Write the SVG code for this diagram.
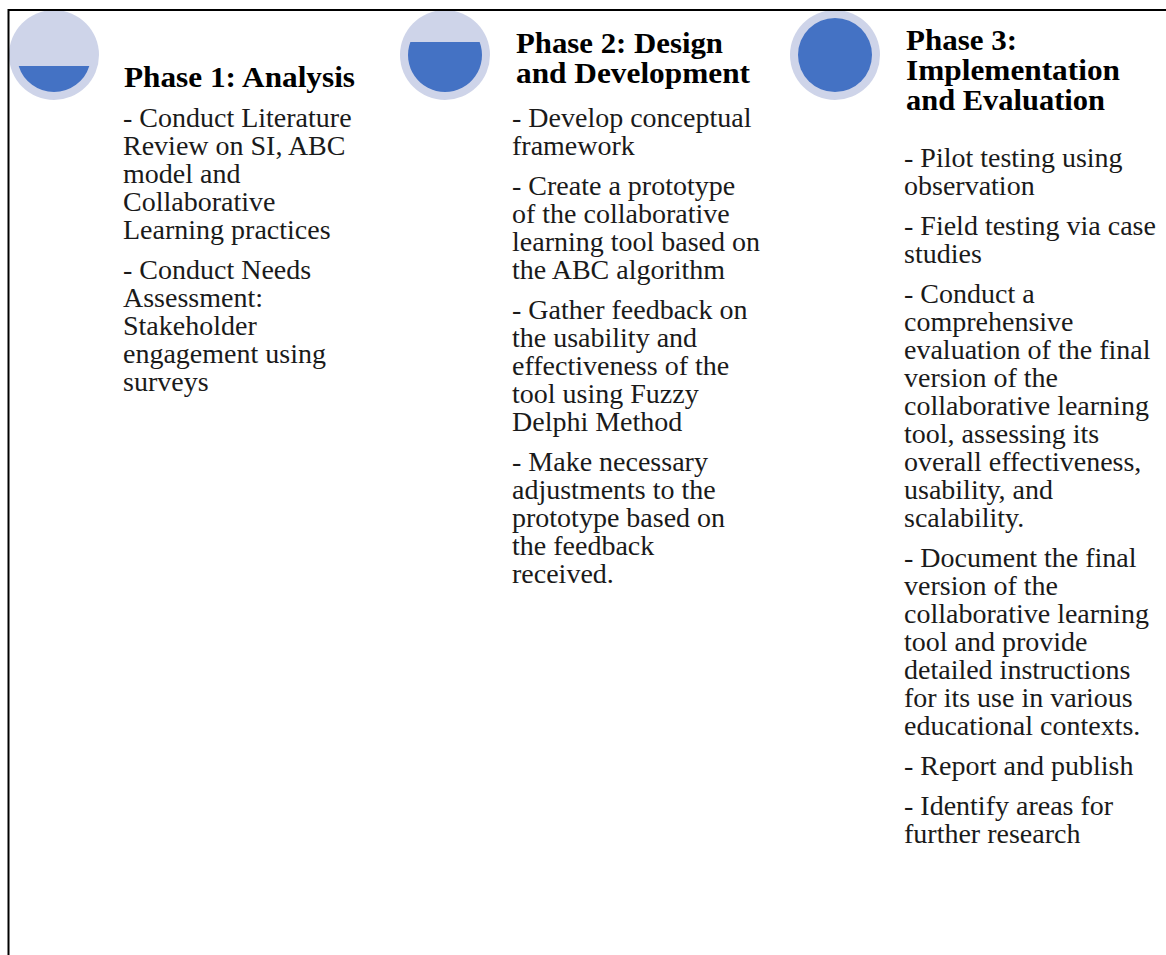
<svg xmlns="http://www.w3.org/2000/svg" width="1166" height="955" viewBox="0 0 1166 955">
  <style>
    .ring { fill: #CED4E9; }
    .fill { fill: #4472C4; }
    .title { font-family: "Liberation Serif", "Times New Roman", serif; font-weight: bold; font-size: 29px; fill: #000; }
    .body { font-family: "Liberation Serif", "Times New Roman", serif; font-size: 28px; fill: #1a1a1a; }
    .frame { stroke: #000; stroke-width: 2; fill: none; }
  </style>
  <rect width="1166" height="955" fill="#fff"/>

  <!-- Phase 1: quarter-filled progress disc -->
  <g id="phase1">
    <circle class="ring" cx="54" cy="55" r="45"/>
    <path class="fill" d="M 18.67 66 L 89.33 66 A 37 37 0 0 1 18.67 66 Z"/>
    <text class="title" x="124" y="87" textLength="231" lengthAdjust="spacingAndGlyphs">Phase 1: Analysis</text>
    <text class="body">
      <tspan x="123" y="127">- Conduct Literature</tspan>
      <tspan x="123" y="155">Review on SI, ABC</tspan>
      <tspan x="123" y="183">model and</tspan>
      <tspan x="123" y="211">Collaborative</tspan>
      <tspan x="123" y="239">Learning practices</tspan>
      <tspan x="123" y="279">- Conduct Needs</tspan>
      <tspan x="123" y="307">Assessment:</tspan>
      <tspan x="123" y="335">Stakeholder</tspan>
      <tspan x="123" y="363">engagement using</tspan>
      <tspan x="123" y="391">surveys</tspan>
    </text>
  </g>

  <!-- Phase 2: mostly filled progress disc -->
  <g id="phase2">
    <circle class="ring" cx="445" cy="55" r="45"/>
    <path class="fill" d="M 410.36 42 L 479.64 42 A 37 37 0 1 1 410.36 42 Z"/>
    <text class="title">
      <tspan x="516" y="53" textLength="207" lengthAdjust="spacingAndGlyphs">Phase 2: Design</tspan>
      <tspan x="516" y="83" textLength="234" lengthAdjust="spacingAndGlyphs">and Development</tspan>
    </text>
    <text class="body">
      <tspan x="512" y="127">- Develop conceptual</tspan>
      <tspan x="512" y="155">framework</tspan>
      <tspan x="512" y="195">- Create a prototype</tspan>
      <tspan x="512" y="223">of the collaborative</tspan>
      <tspan x="512" y="251">learning tool based on</tspan>
      <tspan x="512" y="279">the ABC algorithm</tspan>
      <tspan x="512" y="319">- Gather feedback on</tspan>
      <tspan x="512" y="347">the usability and</tspan>
      <tspan x="512" y="375">effectiveness of the</tspan>
      <tspan x="512" y="403">tool using Fuzzy</tspan>
      <tspan x="512" y="431">Delphi Method</tspan>
      <tspan x="512" y="471">- Make necessary</tspan>
      <tspan x="512" y="499">adjustments to the</tspan>
      <tspan x="512" y="527">prototype based on</tspan>
      <tspan x="512" y="555">the feedback</tspan>
      <tspan x="512" y="583">received.</tspan>
    </text>
  </g>

  <!-- Phase 3: fully filled progress disc -->
  <g id="phase3">
    <circle class="ring" cx="835" cy="55" r="45"/>
    <circle class="fill" cx="835" cy="55" r="37"/>
    <text class="title">
      <tspan x="906" y="50" textLength="111" lengthAdjust="spacingAndGlyphs">Phase 3:</tspan>
      <tspan x="906" y="80" textLength="214" lengthAdjust="spacingAndGlyphs">Implementation</tspan>
      <tspan x="906" y="110" textLength="199" lengthAdjust="spacingAndGlyphs">and Evaluation</tspan>
    </text>
    <text class="body">
      <tspan x="904" y="167">- Pilot testing using</tspan>
      <tspan x="904" y="195">observation</tspan>
      <tspan x="904" y="235">- Field testing via case</tspan>
      <tspan x="904" y="263">studies</tspan>
      <tspan x="904" y="303">- Conduct a</tspan>
      <tspan x="904" y="331">comprehensive</tspan>
      <tspan x="904" y="359">evaluation of the final</tspan>
      <tspan x="904" y="387">version of the</tspan>
      <tspan x="904" y="415">collaborative learning</tspan>
      <tspan x="904" y="443">tool, assessing its</tspan>
      <tspan x="904" y="471">overall effectiveness,</tspan>
      <tspan x="904" y="499">usability, and</tspan>
      <tspan x="904" y="527">scalability.</tspan>
      <tspan x="904" y="567">- Document the final</tspan>
      <tspan x="904" y="595">version of the</tspan>
      <tspan x="904" y="623">collaborative learning</tspan>
      <tspan x="904" y="651">tool and provide</tspan>
      <tspan x="904" y="679">detailed instructions</tspan>
      <tspan x="904" y="707">for its use in various</tspan>
      <tspan x="904" y="735">educational contexts.</tspan>
      <tspan x="904" y="775">- Report and publish</tspan>
      <tspan x="904" y="815">- Identify areas for</tspan>
      <tspan x="904" y="843">further research</tspan>
    </text>
  </g>

  <!-- open frame: top and left edges -->
  <g id="frame">
    <path class="frame" d="M 8.5 955 L 8.5 10 L 1166 10"/>
  </g>
</svg>
